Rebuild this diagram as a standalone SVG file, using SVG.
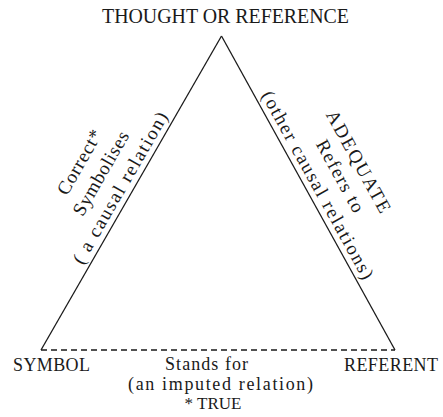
<svg xmlns="http://www.w3.org/2000/svg" width="443" height="417" viewBox="0 0 443 417">
<style>
.t{font-family:"Liberation Serif","Times New Roman",serif;font-size:19px;fill:#1a1a1a}
.b{font-size:18px}
.s{stroke:#1a1a1a;stroke-width:1.3;fill:none}
.d{stroke:#1a1a1a;stroke-width:1.3;fill:none;stroke-dasharray:6 4}
</style>
<rect width="443" height="417" fill="#fff"/>
<g id="connectors">
<line class="s" x1="221.5" y1="36" x2="41" y2="350"/>
<line class="s" x1="221.5" y1="36" x2="395" y2="350"/>
<line class="d" x1="41" y1="350" x2="395" y2="350"/>
</g>
<g id="thought">
<text class="t" x="102" y="23" style="font-size:20px" textLength="247" lengthAdjust="spacingAndGlyphs">THOUGHT OR REFERENCE</text>
</g>
<g id="symbol">
<text class="t b" x="13" y="371" textLength="77">SYMBOL</text>
</g>
<g id="referent">
<text class="t b" x="344" y="371" textLength="94">REFERENT</text>
</g>
<g id="symbolises" transform="translate(41,350) rotate(-60.1)">
<text class="t" x="182" y="-54" text-anchor="middle" textLength="72">Correct*</text>
<text class="t" x="183" y="-30" text-anchor="middle" textLength="94">Symbolises</text>
<text class="t" x="180" y="-6" text-anchor="middle" textLength="172">( a causal relation)</text>
</g>
<g id="refers" transform="translate(221.5,36) rotate(61.1)">
<text class="t" x="176" y="-53" text-anchor="middle" textLength="114">ADEQUATE</text>
<text class="t" x="180" y="-30" text-anchor="middle" textLength="80">Refers to</text>
<text class="t" x="177" y="-6" text-anchor="middle" textLength="212">(other causal relations)</text>
</g>
<g id="stands">
<text class="t b" x="165" y="370" textLength="83">Stands for</text>
<text class="t b" x="128" y="390" textLength="185">(an imputed relation)</text>
<text class="t" x="213" y="409" text-anchor="middle" style="font-size:17px">* TRUE</text>
</g>
</svg>
